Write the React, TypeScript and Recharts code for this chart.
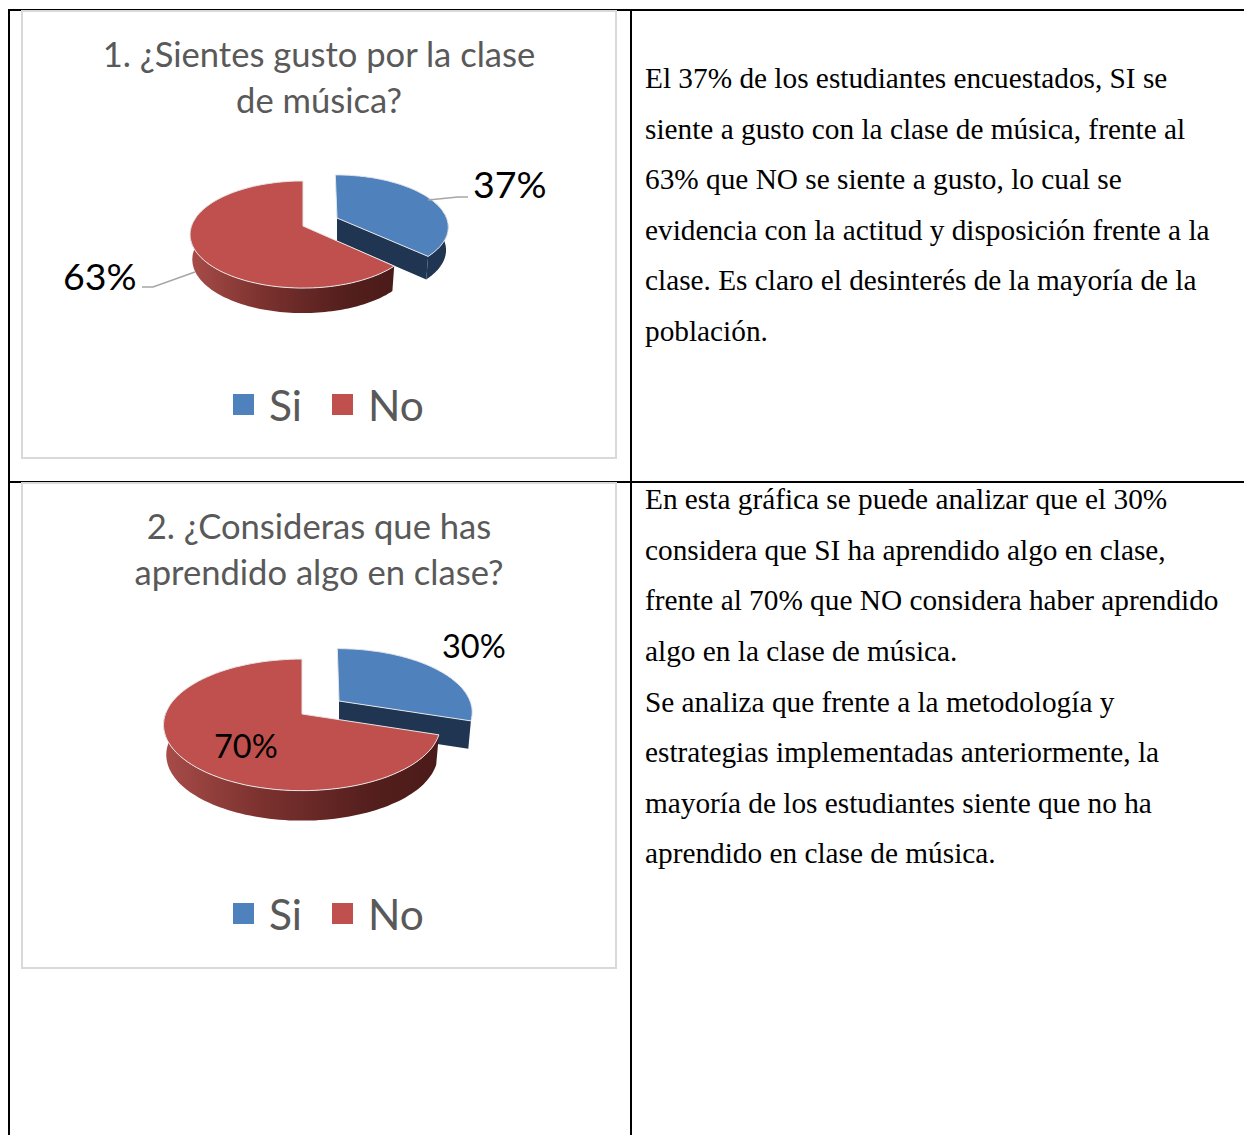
import React from "react";
import { PieChart, Pie, Legend } from "recharts";

const categories = ["Si", "No"];
const colors = ["#4f81bd", "#c0504d"];
const sideColors = ["#1f3552", "url(#side)"];
const valuesOne = [37, 63];
const valuesTwo = [30, 70];
const titleOne = ["1. ¿Sientes gusto por la clase", "de música?"];
const titleTwo = ["2. ¿Consideras que has", "aprendido algo en clase?"];
const textOne = [
  "El 37% de los estudiantes encuestados, SI se",
  "siente a gusto con la clase de música, frente al",
  "63% que NO se siente a gusto, lo cual se",
  "evidencia con la actitud y disposición frente a la",
  "clase. Es claro el desinterés de la mayoría de la",
  "población.",
];
const textTwo = [
  "En esta gráfica se puede analizar que el 30%",
  "considera que SI ha aprendido algo en clase,",
  "frente al 70% que NO considera haber aprendido",
  "algo en la clase de música.",
  "Se analiza que frente a la metodología y",
  "estrategias implementadas anteriormente, la",
  "mayoría de los estudiantes siente que no ha",
  "aprendido en clase de música.",
];
const baselinesOne = [87, 138, 188, 239, 289, 340];
const baselinesTwo = [508, 559, 609, 660, 711, 761, 812, 862];

const makeData = (values: number[]) =>
  categories.map((name, i) => ({ name, value: values[i], fill: colors[i], side: sideColors[i] }));

type Geometry = {
  top: number;
  height: number;
  titleY: number[];
  title: string[];
  data: any[];
  cx: number;
  cy: number;
  rx: number;
  ry: number;
  k: number;
  depth: number;
  blue: { dx: number; dy: number; rx: number; ry: number; depth: number; sideFrom: number };
  labels: Record<string, { x: number; y: number; size: number }>;
  leaders: Record<string, string>;
  legendY: number;
};

const chartOne: Geometry = {
  top: 10,
  height: 449,
  titleY: [57, 103],
  title: titleOne,
  data: makeData(valuesOne),
  cx: 282,
  cy: 216,
  rx: 111.5,
  ry: 52.2,
  k: 0.159,
  depth: 25,
  blue: { dx: 34, dy: -8, rx: 109.5, ry: 50, depth: 23, sideFrom: 85 },
  labels: {
    Si: { x: 452, y: 173, size: 37.5 },
    No: { x: 42, y: 265, size: 37.5 },
  },
  leaders: {
    Si: "M407 190L437 187L447 187",
    No: "M174 262L132 277L121 277",
  },
  legendY: 394,
};

const chartTwo: Geometry = {
  top: 482,
  height: 487,
  titleY: [57, 103],
  title: titleTwo,
  data: makeData(valuesTwo),
  cx: 281,
  cy: 232,
  rx: 136.6,
  ry: 64,
  k: 0.165,
  depth: 30,
  blue: { dx: 37, dy: -13, rx: 131, ry: 61, depth: 28, sideFrom: 108 },
  labels: {
    Si: { x: 421, y: 163, size: 32.5 },
    No: { x: 193, y: 263, size: 32.5 },
  },
  leaders: {},
  legendY: 431,
};

const project = (g: Geometry, name: string, deg: number) => {
  const t = (deg * Math.PI) / 180;
  const sx = Math.sin(t);
  const sy = -Math.cos(t);
  const w = 1 / (1 - g.k * sy);
  const blue = name === "Si";
  const ax = g.cx + (blue ? g.blue.dx : 0);
  const ay = g.cy + (blue ? g.blue.dy : 0);
  const ry = blue ? g.blue.ry : g.ry;
  const rx = blue ? g.blue.rx : g.rx;
  const skew = blue ? 2 * sy * w : 0;
  return { x: ax + rx * sx * w + skew, y: ay + ry * sy * w, ax, ay };
};

const Slice = (g: Geometry) => (props: any) => {
  const name = props.payload?.name ?? props.name;
  const side = props.payload?.side ?? props.side;
  const a = 90 - props.startAngle;
  const b = 90 - props.endAngle;
  const isBlue = name === "Si";
  const depth = isBlue ? g.blue.depth : g.depth;
  const steps = 90;
  const arc: { x: number; y: number }[] = [];
  for (let i = 0; i <= steps; i++) {
    arc.push(project(g, name, a + ((b - a) * i) / steps));
  }
  const { ax, ay } = project(g, name, a);
  const s0 = Math.max(a, isBlue ? g.blue.sideFrom : 85);
  const s1 = Math.min(b, 272);
  const sideTop: { x: number; y: number }[] = [];
  for (let i = 0; i <= steps; i++) {
    sideTop.push(project(g, name, s0 + ((s1 - s0) * i) / steps));
  }
  const toD = (pts: { x: number; y: number }[]) =>
    pts.map((p, i) => `${i ? "L" : "M"}${p.x.toFixed(1)} ${p.y.toFixed(1)}`).join("");
  const lower = (p: { x: number; y: number }) => ({ x: ax + (p.x - ax) * 0.98, y: p.y + depth });
  const sideD = toD(sideTop) + toD([...sideTop].reverse().map(lower)).replace("M", "L") + "Z";
  const end = arc[arc.length - 1];
  const endLow = lower(end);
  const wall = b < 180;
  return (
    <g>
      <defs>
        <linearGradient id="side" x1="0" y1="0" x2="1" y2="0">
          <stop offset="0" stopColor="#a84c49" />
          <stop offset="0.35" stopColor="#7c322f" />
          <stop offset="0.75" stopColor="#541f1d" />
          <stop offset="1" stopColor="#4b1b19" />
        </linearGradient>
      </defs>
      <path d={sideD} fill={side} stroke="none" />
      {wall && (
        <path
          d={`M${ax} ${ay}L${end.x} ${end.y}L${endLow.x} ${endLow.y}L${ax} ${ay + depth}Z`}
          fill={side}
        />
      )}
      <path
        d={`M${ax} ${ay}${toD(arc).replace("M", "L")}Z`}
        fill={props.fill}
        stroke="#e6e6e6"
        strokeWidth={1}
        strokeLinejoin="round"
      />
    </g>
  );
};

const ChartPanel = ({ g }: { g: Geometry }) => {
  const renderLabel = (props: any) => {
    const name = props.payload?.name ?? props.name;
    const pos = g.labels[name];
    return (
      <g>
        {g.leaders[name] && <path d={g.leaders[name]} fill="none" stroke="#a6a6a6" strokeWidth={1.5} />}
        <text
          x={pos.x}
          y={pos.y}
          fontFamily="Lato"
          fontSize={pos.size}
          fill="#000000"
          textAnchor="start"
          dominantBaseline="central"
        >
          {`${props.value}%`}
        </text>
      </g>
    );
  };
  const legendContent = (props: any) => (
    <div style={{ display: "flex", alignItems: "center", height: 40, fontFamily: "Lato", fontSize: 42.5, color: "#595959" }}>
      {(props.payload ?? []).map((entry: any, i: number) => (
        <div key={entry.value} style={{ display: "flex", alignItems: "center", marginLeft: i ? 30 : 212 }}>
          <span style={{ width: 21, height: 21, background: entry.color, marginRight: 15, display: "block" }} />
          <span>{entry.value}</span>
        </div>
      ))}
    </div>
  );
  return (
    <div
      style={{
        position: "absolute",
        left: 21,
        top: g.top,
        width: 596,
        height: g.height,
        boxSizing: "border-box",
        boxShadow: "inset 0 0 0 2px #d9d9d9",
      }}
    >
      <PieChart width={596} height={g.height} margin={{ top: 0, right: 0, bottom: 0, left: 0 }}>
        {g.title.map((line, i) => (
          <text key={line} x={298} y={g.titleY[i]} textAnchor="middle" fontFamily="Lato" fontSize={34.6} fill="#595959">
            {line}
          </text>
        ))}
        <Pie
          data={g.data}
          dataKey="value"
          nameKey="name"
          cx={g.cx}
          cy={g.cy}
          outerRadius={g.rx}
          startAngle={90}
          endAngle={-270}
          stroke="none"
          isAnimationActive={false}
          shape={Slice(g)}
          label={renderLabel}
          labelLine={false}
        />
        <Legend
          content={legendContent}
          itemSorter={null}
          wrapperStyle={{ position: "absolute", left: 0, top: g.legendY - 20, width: 596, height: 40 }}
        />
      </PieChart>
    </div>
  );
};

const TextBlock = ({ lines, baselines }: { lines: string[]; baselines: number[] }) => (
  <>
    {lines.map((line, i) => (
      <div
        key={line}
        style={{
          position: "absolute",
          left: 645,
          top: baselines[i] - 25,
          lineHeight: "32px",
          fontFamily: "'Liberation Serif'",
          fontSize: 29.3,
          color: "#000",
          whiteSpace: "pre",
        }}
      >
        {line}
      </div>
    ))}
  </>
);

const Rule = (style: React.CSSProperties) => <div style={{ position: "absolute", background: "#000", ...style }} />;

export default function App() {
  return (
    <div style={{ position: "absolute", left: 0, top: 0, width: 1244, height: 1135, overflow: "hidden", background: "#fff" }}>
      <Rule left={8} top={9} width={1236} height={2} />
      <Rule left={8} top={481} width={1236} height={2} />
      <Rule left={8} top={9} width={2} height={1126} />
      <Rule left={630} top={9} width={2} height={1126} />
      <ChartPanel g={chartOne} />
      <ChartPanel g={chartTwo} />
      <TextBlock lines={textOne} baselines={baselinesOne} />
      <TextBlock lines={textTwo} baselines={baselinesTwo} />
    </div>
  );
}
